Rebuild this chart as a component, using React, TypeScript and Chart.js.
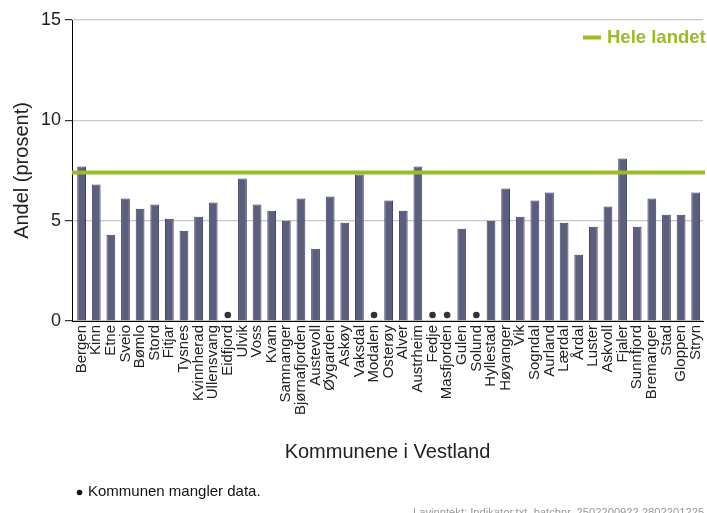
import React, { useEffect, useRef } from "react";
import { Chart, registerables } from "chart.js";

Chart.register(...registerables);

const KOMMUNER: string[] = [
  "Bergen", "Kinn", "Etne", "Sveio", "Bømlo", "Stord", "Fitjar", "Tysnes", "Kvinnherad", "Ullensvang",
  "Eidfjord", "Ulvik", "Voss", "Kvam", "Samnanger", "Bjørnafjorden", "Austevoll", "Øygarden", "Askøy", "Vaksdal",
  "Modalen", "Osterøy", "Alver", "Austrheim", "Fedje", "Masfjorden", "Gulen", "Solund", "Hyllestad", "Høyanger",
  "Vik", "Sogndal", "Aurland", "Lærdal", "Årdal", "Luster", "Askvoll", "Fjaler", "Sunnfjord", "Bremanger",
  "Stad", "Gloppen", "Stryn",
];

const ANDEL: (number | null)[] = [
  7.7, 6.8, 4.3, 6.1, 5.6, 5.8, 5.1, 4.5, 5.2, 5.9,
  null, 7.1, 5.8, 5.5, 5.0, 6.1, 3.6, 6.2, 4.9, 7.3,
  null, 6.0, 5.5, 7.7, null, null, 4.6, null, 5.0, 6.6,
  5.2, 6.0, 6.4, 4.9, 3.3, 4.7, 5.7, 8.1, 4.7, 6.1,
  5.3, 5.3, 6.4,
];

const HELE_LANDET = 7.4;
const MISSING_MARK = 0.3;
const Y_MIN = 0;
const Y_MAX = 15;
const Y_STEP = 5;

const TITLE_Y = "Andel (prosent)";
const TITLE_X = "Kommunene i Vestland";
const LEGEND_LABEL = "Hele landet";
const FOOTNOTE = "Kommunen mangler data.";
const SOURCE = "Lavinntekt: Indikator.txt, batchnr. 2502200922 2802201225";

const FONT = "'Liberation Sans', Arial, Helvetica, sans-serif";
const GREEN = "#9bbb2a";

export default function App() {
  const ref = useRef<HTMLCanvasElement | null>(null);

  useEffect(() => {
    document.body.style.margin = "0";
    if (!ref.current) return;

    const missing = ANDEL.map((v) => (v === null ? MISSING_MARK : null));

    const overlay = {
      id: "overlay",
      afterLayout(chart: any) {
        // small inner gap between the y axis and the first category
        const x = chart.scales.x;
        const gap = 2.3;
        x._startPixel += gap;
        x._length -= gap;
      },
      afterDatasetsDraw(chart: any) {
        const { ctx, chartArea, scales } = chart;
        const y = scales.y.getPixelForValue(HELE_LANDET);
        ctx.save();
        ctx.strokeStyle = GREEN;
        ctx.lineWidth = 4;
        ctx.beginPath();
        ctx.moveTo(chartArea.left, y);
        ctx.lineTo(chartArea.right + 2, y);
        ctx.stroke();
        ctx.restore();
      },
      afterDraw(chart: any) {
        const { ctx } = chart;
        ctx.save();
        // legend
        ctx.strokeStyle = GREEN;
        ctx.lineWidth = 4;
        ctx.beginPath();
        ctx.moveTo(583, 37.5);
        ctx.lineTo(601, 37.5);
        ctx.stroke();
        ctx.fillStyle = GREEN;
        ctx.font = `bold 18.5px ${FONT}`;
        ctx.textAlign = "left";
        ctx.textBaseline = "alphabetic";
        ctx.fillText(LEGEND_LABEL, 607, 43);
        // footnote
        ctx.fillStyle = "#111";
        ctx.beginPath();
        ctx.arc(79.5, 492.5, 2.8, 0, Math.PI * 2);
        ctx.fill();
        ctx.font = `15px ${FONT}`;
        ctx.textBaseline = "middle";
        ctx.fillText(FOOTNOTE, 88, 492);
        // source
        ctx.fillStyle = "#999";
        ctx.font = `11.2px ${FONT}`;
        ctx.textBaseline = "alphabetic";
        ctx.fillText(SOURCE, 413, 515.8);
        ctx.restore();
      },
    };

    const chart = new Chart(ref.current, {
      type: "bar",
      data: {
        labels: KOMMUNER,
        datasets: [
          {
            type: "bar",
            data: ANDEL as any,
            backgroundColor: "#5c5e7e",
            borderColor: "#3d3f62",
            borderWidth: 1,
            barPercentage: 0.6,
            categoryPercentage: 1.0,
            order: 2,
          },
          {
            type: "line",
            data: missing as any,
            showLine: false,
            pointRadius: 3.3,
            pointBackgroundColor: "#333",
            pointBorderWidth: 0,
            order: 1,
          } as any,
        ],
      },
      options: {
        animation: false,
        responsive: false,
        layout: { padding: { top: 20, right: 1, left: 0, bottom: 0 } },
        plugins: {
          legend: { display: false },
          tooltip: { enabled: false },
        },
        scales: {
          x: {
            afterFit: (s: any) => {
              s.height = 192;
              s.paddingLeft = 0;
              s.paddingRight = 0;
            },
            grid: { display: false, drawTicks: false },
            border: { display: true, color: "#000", width: 1 },
            ticks: {
              autoSkip: false,
              maxRotation: 90,
              minRotation: 90,
              padding: 4,
              color: "#222",
              font: { size: 15, family: FONT },
            },
            title: {
              display: true,
              text: TITLE_X,
              color: "#222",
              font: { size: 20, family: FONT },
              padding: { top: 0, bottom: 49 },
            },
          },
          y: {
            min: Y_MIN,
            max: Y_MAX,
            afterFit: (s: any) => {
              s.width = 72;
            },
            ticks: {
              stepSize: Y_STEP,
              padding: 4,
              color: "#222",
              font: { size: 18, family: FONT },
            },
            grid: {
              color: "#c8c8c8",
              lineWidth: 1.2,
              tickColor: "#333",
              tickLength: 7,
              drawTicks: true,
            },
            border: { display: true, color: "#000", width: 1 },
            title: {
              display: true,
              text: TITLE_Y,
              color: "#222",
              font: { size: 20, family: FONT },
              padding: { top: 10, bottom: 0 },
            },
          },
        },
      },
      plugins: [overlay],
    });

    return () => chart.destroy();
  }, []);

  return (
    <div style={{ position: "absolute", left: 0, top: 0, width: 707, height: 513, background: "#fff" }}>
      <canvas ref={ref} width={707} height={513} style={{ display: "block", width: 707, height: 513 }} />
    </div>
  );
}
